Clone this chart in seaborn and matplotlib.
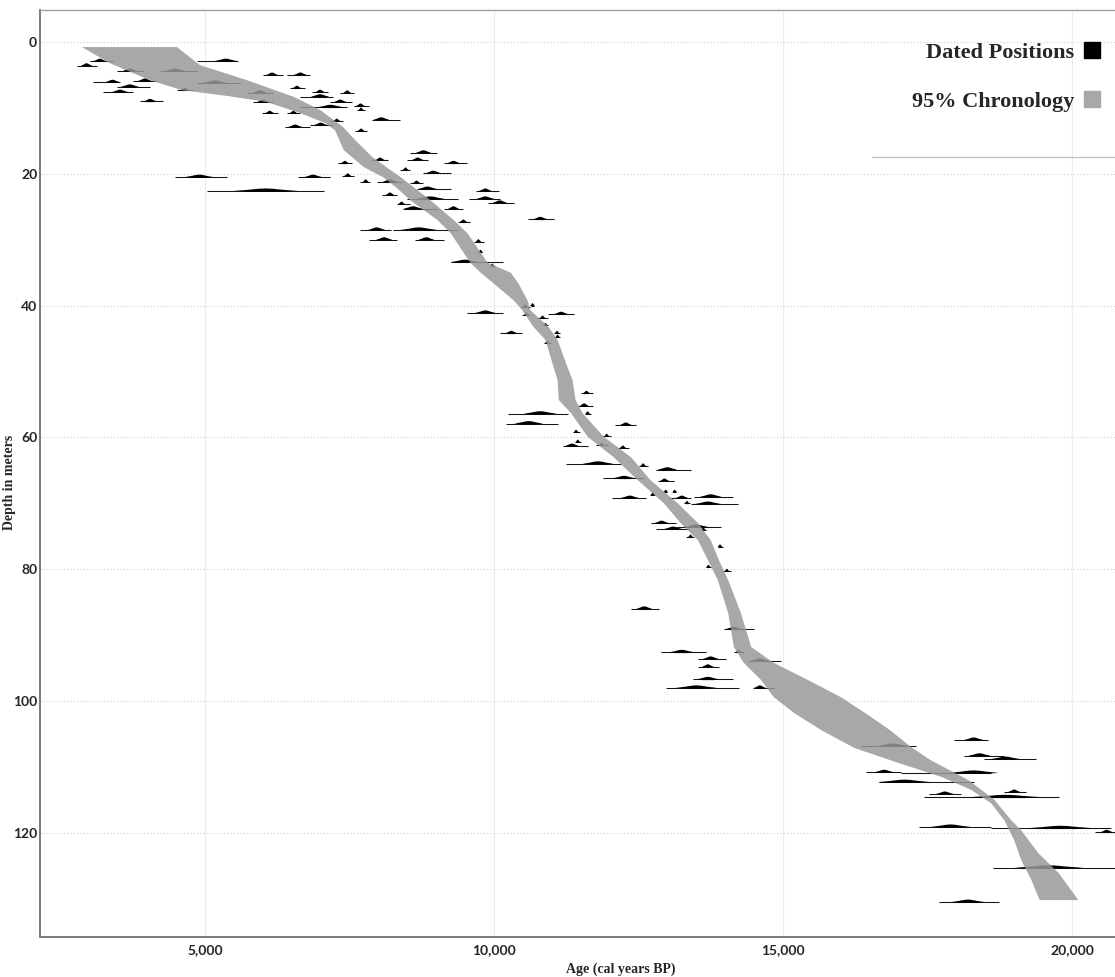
import matplotlib
matplotlib.use("Agg")
import matplotlib.pyplot as plt
from matplotlib.lines import Line2D
from matplotlib.font_manager import FontProperties
import seaborn as sns

# 95% chronology band: young (left) edge and old (right) edge, depth in m / age in cal BP
young_depth = [0.76, 3.2, 5.8, 7.3, 8.2, 9.1, 10.8, 12.3, 13.4, 16.4, 19.0, 20.5, 22.0, 24.0, 27.0,
               29.0, 33.5, 35.0, 36.6, 39.2, 40.7, 43.2, 45.2, 49.3, 51.3, 54.3, 56.3, 59.9,
               63.0, 66.5, 70.0, 73.0, 75.6, 78.6, 81.6, 86.6, 91.8, 94.2, 96.8, 99.4, 101.8,
               104.4, 107.1, 109.4, 111.5, 113.5, 115.5, 118.1, 121.1, 124.1, 127.2, 130.2]
young_age = [2870, 3350, 4050, 4600, 5400, 6070, 6650, 7080, 7250, 7400, 7750, 8080, 8300, 8550, 9020,
             9250, 9590, 9770, 9990, 10340, 10490, 10680, 10890, 11030, 11100, 11120, 11330, 11620,
             12070, 12490, 12940, 13230, 13530, 13700, 13870, 14050, 14150, 14320, 14620, 14840, 15190,
             15660, 16230, 17000, 17740, 18260, 18600, 18830, 19000, 19120, 19300, 19440]
old_depth = [0.76, 3.5, 5.8, 8.3, 10.3, 12.9, 14.9, 17.5, 20.6, 24.0, 27.0, 29.0, 33.5, 35.0,
             36.6, 39.2, 40.7, 43.2, 45.2, 49.3, 51.3, 54.3, 56.3, 59.9, 63.0, 66.5, 70.0, 73.0,
             75.6, 78.6, 81.6, 86.6, 91.8, 94.2, 96.8, 99.4, 101.8, 104.4, 107.0, 109.0,
             112.0, 115.0, 118.1, 119.6, 123.1, 126.1, 130.2]
old_age = [4515, 4910, 5730, 6530, 6990, 7390, 7600, 7900, 8400, 8900, 9300, 9540, 9890, 10290,
           10420, 10580, 10630, 10940, 11100, 11270, 11360, 11410, 11530, 11900, 12370, 12710, 13180, 13530,
           13750, 13890, 14050, 14270, 14450, 14840, 15430, 16000, 16420, 16850, 17220, 17560,
           18210, 18660, 18950, 19120, 19420, 19770, 20110]

# dated positions: depth, 95% range (lo, hi) and peak age
pos_depth = [2.9, 3.6, 2.9, 4.4, 4.4, 5.0, 5.0, 6.1, 5.9, 6.2, 6.8, 7.6, 7.3, 9.0, 7.0, 7.6, 7.7,
             8.3, 9.1, 9.7, 10.3, 9.9, 7.7, 9.1, 10.8, 10.8, 11.8, 12.9, 12.6, 13.5, 12.0, 18.4,
             17.9, 20.5, 20.5, 20.3, 22.6, 21.2, 16.8, 17.9, 18.4, 19.9, 19.4, 21.2, 21.4, 23.2,
             22.3, 22.6, 23.8, 23.8, 24.6, 25.3, 25.3, 27.3, 28.5, 28.5, 30.0, 30.0, 30.3, 24.4,
             26.9, 31.9, 33.4, 34.0, 40.0, 40.2, 41.1, 41.4, 41.9, 41.3, 43.0, 44.2, 44.2, 44.8,
             45.7, 53.3, 55.2, 56.4, 57.9, 56.4, 58.1, 59.2, 59.8, 61.3, 60.7, 61.2, 61.6, 64.0,
             64.3, 64.9, 66.2, 66.6, 68.3, 68.3, 69.2, 69.2, 69.0, 70.1, 70.0, 68.7, 73.0, 73.9,
             73.6, 74.0, 75.1, 76.6, 79.7, 80.3, 86.0, 89.1, 92.6, 92.6, 93.6, 93.9, 94.8, 96.7,
             98.0, 98.0, 106.8, 105.9, 108.3, 108.8, 110.8, 110.9, 112.3, 113.8, 114.1, 114.6,
             119.1, 119.3, 119.9, 125.3, 130.5]
pos_lo = [3010, 2780, 4860, 3480, 4220, 6000, 6420, 3060, 3750, 4860, 3480, 3230, 4520, 3870, 6470,
          6850, 7340, 6650, 7170, 7570, 7630, 6650, 5730, 5830, 5990, 6420, 7890, 6390, 6820, 7600,
          7170, 7300, 7890, 4480, 6610, 7370, 5040, 7690, 8550, 8500, 9130, 8780, 8380, 7980, 8550,
          8070, 8670, 9680, 9560, 8500, 8330, 8430, 9130, 9370, 7690, 8260, 7830, 8640, 9650, 9890,
          10580, 9740, 9250, 9930, 10640, 10460, 9540, 10490, 10750, 10940, 10840, 10110, 11030,
          11050, 10860, 11500, 11450, 10250, 10200, 11580, 12100, 11360, 11880, 11190, 11400, 11760,
          12140, 11240, 12500, 12800, 11880, 12830, 12950, 13100, 12050, 13020, 13460, 13410, 13290,
          12700, 12710, 12800, 13150, 13580, 13320, 13870, 13670, 13960, 12370, 13980, 12890, 14150,
          13530, 14390, 13530, 13440, 12970, 14480, 16350, 17960, 18140, 18470, 16440, 17040, 16660,
          18830, 17530, 17440, 17360, 18600, 20390, 18640, 17700]
pos_hi = [3400, 3130, 5570, 3930, 4860, 6350, 6820, 3530, 4170, 5610, 4050, 3750, 4790, 4270, 6730,
          7130, 7570, 7220, 7550, 7830, 7770, 7460, 6180, 6180, 6270, 6650, 8380, 6820, 7220, 7810,
          7390, 7550, 8170, 5380, 7170, 7570, 7050, 7860, 9020, 8850, 9540, 9250, 8550, 8430, 8780,
          8330, 9250, 10080, 10110, 9370, 8550, 9020, 9470, 9590, 8210, 9370, 8330, 9130, 9820, 10340,
          11030, 9790, 10160, 10010, 10700, 10630, 10160, 10630, 10930, 11380, 10940, 10490, 11150,
          11150, 10980, 11720, 11720, 11280, 11100, 11670, 12450, 11480, 12020, 11620, 11500, 11970,
          12330, 12190, 12660, 13410, 12590, 13110, 13000, 13150, 12630, 13410, 14130, 14220, 13390,
          12790, 13150, 13370, 13930, 13670, 13460, 13960, 13750, 14100, 12850, 14500, 13670, 14320,
          14010, 14970, 13890, 14130, 14240, 14840, 17300, 18550, 18830, 19380, 17040, 18600, 18310,
          19210, 18080, 19770, 18600, 20680, 20770, 20770, 18740]
pos_peak = [3180, 2950, 5360, 3700, 4480, 6160, 6650, 3400, 3960, 5170, 3700, 3530, 4650, 4050, 6590,
            6990, 7460, 6990, 7340, 7690, 7700, 7170, 5950, 6000, 6120, 6530, 8050, 6560, 7000, 7700,
            7280, 7420, 8030, 4900, 6870, 7470, 6050, 7780, 8780, 8680, 9300, 8950, 8470, 8200, 8660,
            8200, 8850, 9850, 9850, 8900, 8400, 8600, 9300, 9470, 7970, 8700, 8100, 8830, 9730, 10100,
            10800, 9766, 9500, 9970, 10667, 10540, 9850, 10560, 10840, 11160, 10890, 10300, 11090,
            11100, 10920, 11600, 11560, 10800, 10600, 11620, 12280, 11420, 11950, 11350, 11450, 11860,
            12230, 11800, 12580, 13000, 12250, 12950, 12970, 13125, 12350, 13250, 13750, 13700, 13340,
            12750, 12900, 13100, 13500, 13620, 13400, 13910, 13710, 14030, 12600, 14150, 13250, 14230,
            13750, 14600, 13700, 13700, 13500, 14600, 16900, 18300, 18400, 18850, 16750, 18300, 17100,
            19000, 17800, 18850, 17900, 19800, 20600, 19600, 18200]

x_ticks = [5000, 10000, 15000, 20000]
x_tick_labels = ["5,000", "10,000", "15,000", "20,000"]
y_ticks = [0, 20, 40, 60, 80, 100, 120]
legend_labels = ["Dated Positions", "95% Chronology"]

sns.set_theme(style="white")
plt.rcParams["font.family"] = ["Lato", "DejaVu Sans"]

fig = plt.figure(figsize=(11.15, 9.77), dpi=100)
ax = fig.add_axes([40 / 1115, 40 / 977, 1075 / 1115, 927 / 977])

# dated positions: thin range line plus a flat probability hump around the peak
h = 0.38
for d, lo, hi, pk in zip(pos_depth, pos_lo, pos_hi, pos_peak):
    ax.plot([lo, hi], [d, d], color="#151515", lw=0.75, solid_capstyle="butt", zorder=2)
    w = max(0.28 * (hi - lo), 40)
    ax.fill([pk - w, pk - 0.55 * w, pk - 0.2 * w, pk, pk + 0.2 * w, pk + 0.55 * w, pk + w,
             pk + 0.5 * w, pk - 0.5 * w],
            [d, d - 0.45 * h, d - 0.9 * h, d - h, d - 0.9 * h, d - 0.45 * h, d,
             d + 0.12, d + 0.12],
            color="black", lw=0, zorder=2)

# chronology band drawn over the dates
ax.fill(young_age + old_age[::-1], young_depth + old_depth[::-1],
        color="#999999", alpha=0.85, lw=0, zorder=3)

ax.set_xlim(2145, 20744)
ax.set_ylim(135.8, -4.86)
ax.set_xticks(x_ticks)
ax.set_xticklabels(x_tick_labels)
ax.set_yticks(y_ticks)
ax.tick_params(axis="both", length=0, labelsize=10)
ax.tick_params(axis="x", pad=5)
ax.tick_params(axis="y", pad=2)
for lab in ax.get_xticklabels() + ax.get_yticklabels():
    lab.set_fontweight("bold")

ax.grid(axis="y", color="#cfcfcf", ls=(0, (1, 2)), lw=0.8)
ax.grid(axis="x", color="#ececec", ls="-", lw=0.8)
ax.set_axisbelow(True)

sns.despine(ax=ax, top=False, right=True)
for side in ["left", "bottom"]:
    ax.spines[side].set_color("#7a7a7a")
    ax.spines[side].set_linewidth(1.4)
ax.spines["top"].set_color("#a0a0a0")
ax.spines["top"].set_linewidth(1.0)

serif_bold = dict(family=["Liberation Serif", "DejaVu Serif"], weight="bold")
ax.set_xlabel("Age (cal years BP)", fontsize=10, **serif_bold)
ax.set_ylabel("Depth in meters", fontsize=10, **serif_bold)
ax.xaxis.set_label_coords(0.54, -0.027)
ax.yaxis.set_label_coords(-0.022, 0.49)

# legend at top right with boxed bottom rule
handles = [Line2D([], [], marker="s", ls="", color="black", ms=12),
           Line2D([], [], marker="s", ls="", color="#a8a8a8", ms=12)]
ax.legend(handles, legend_labels, loc="upper right", bbox_to_anchor=(0.995, 0.975),
          markerfirst=False, frameon=False, handlelength=0.8, handletextpad=0.4,
          labelspacing=1.3, borderaxespad=0,
          prop=FontProperties(family="Liberation Serif", weight="bold", size=16))
ax.plot([0.774, 1.0], [0.8414, 0.8414], transform=ax.transAxes, color="#c4c4c4",
        lw=1.0, clip_on=False, zorder=4)

fig.savefig("out.png", dpi=100)
plt.close(fig)
